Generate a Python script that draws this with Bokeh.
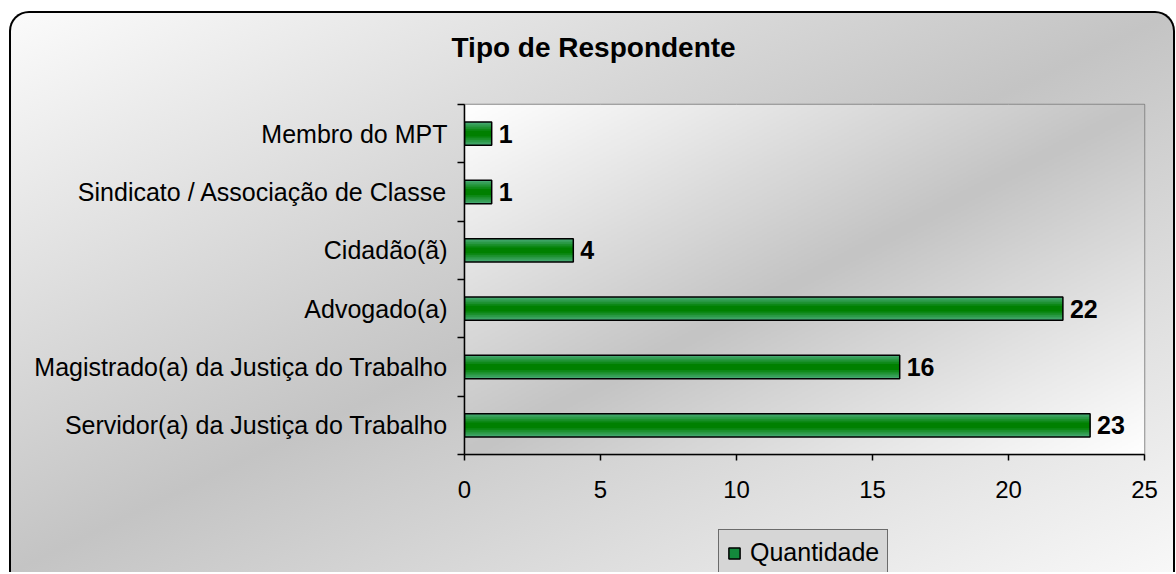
import numpy as np
from bokeh.plotting import figure
from bokeh.layouts import column
from bokeh.models import (Range1d, FixedTicker, Legend, LegendItem, ColumnDataSource, Title)
from bokeh.core.properties import value
from bokeh.embed import file_html
from bokeh.resources import INLINE

# ---- data ----
categories = ["Servidor(a) da Justiça do Trabalho",
              "Magistrado(a) da Justiça do Trabalho",
              "Advogado(a)",
              "Cidadão(ã)",
              "Sindicato / Associação de Classe",
              "Membro do MPT"]
quantidade = [23, 16, 22, 4, 1, 1]
x_ticks = [0, 5, 10, 15, 20, 25]
title_text = "Tipo de Respondente"
series_name = "Quantidade"

FONT = "Liberation Sans"
n = len(categories)
pos = [i + 0.5 for i in range(n)]
src = ColumnDataSource(dict(y=pos, v=quantidade, lab=[str(q) for q in quantidade]))

p = figure(width=1162, height=516, output_backend="svg", toolbar_location=None,
           x_range=Range1d(x_ticks[0], x_ticks[-1]), y_range=Range1d(0, n),
           min_border_left=453, min_border_right=29, min_border_top=91, min_border_bottom=75)
p.border_fill_alpha = 0
p.background_fill_alpha = 0
p.outline_line_color = "#888888"
p.outline_line_width = 1.5

# plot-area gradient background
N = 240
u = np.linspace(0, 1, N)[None, :]
vv = (1 - np.linspace(0, 1, N))[:, None]
t = (u + vv) / 2.0
g = (196 + (255 - 196) * np.abs(2 * t - 1)).astype(np.uint8)
img = np.empty((N, N), dtype=np.uint32)
view = img.view(dtype=np.uint8).reshape((N, N, 4))
view[:, :, 0] = g
view[:, :, 1] = g
view[:, :, 2] = g
view[:, :, 3] = 255
p.image_rgba(image=[img], x=x_ticks[0], y=0, dw=x_ticks[-1] - x_ticks[0], dh=n)

# grid
p.ygrid.grid_line_color = None
p.xgrid.grid_line_color = "#b4b4b4"
p.xgrid.grid_line_width = 1
p.xgrid.ticker = FixedTicker(ticks=x_ticks)

# bars (layered to mimic the shaded fill)
edge = np.array([0x45, 0xa8, 0x70])
core = np.array([0x00, 0x80, 0x00])
heights = [0.40, 0.34, 0.28, 0.22, 0.16, 0.10]
for k, hgt in enumerate(heights):
    f = k / (len(heights) - 1)
    c = (edge + (core - edge) * f).astype(int)
    col = "#%02x%02x%02x" % tuple(c)
    p.hbar(y="y", left=0, right="v", height=hgt, source=src,
           fill_color=col, line_color=None)
p.hbar(y="y", left=0, right="v", height=0.4, source=src,
       fill_alpha=0, line_color="black", line_width=1.5)

# value labels
p.text(x="v", y="y", text="lab", source=src, x_offset=7,
       text_baseline="middle", text_align="left",
       text_font=value(FONT), text_font_style="bold", text_font_size="25px",
       text_color="black")

# x axis
xa = p.xaxis[0]
xa.ticker = FixedTicker(ticks=x_ticks)
xa.major_tick_out = 6
xa.major_tick_in = 0
xa.minor_tick_out = 0
xa.minor_tick_in = 0
xa.axis_line_color = "black"
xa.axis_line_width = 1.5
xa.major_tick_line_color = "black"
xa.major_tick_line_width = 1.5
xa.major_label_text_font = FONT
xa.major_label_text_font_size = "24px"
xa.major_label_text_color = "black"
xa.major_label_standoff = 20

# y axis
ya = p.yaxis[0]
ya.ticker = FixedTicker(ticks=pos, minor_ticks=list(range(n + 1)))
ya.major_label_overrides = {pp: c for pp, c in zip(pos, categories)}
ya.major_tick_out = 0
ya.major_tick_in = 0
ya.minor_tick_out = 7
ya.minor_tick_in = 0
ya.minor_tick_line_color = "black"
ya.minor_tick_line_width = 1.5
ya.axis_line_color = "black"
ya.axis_line_width = 1.5
ya.major_label_text_font = FONT
ya.major_label_text_font_size = "25px"
ya.major_label_text_color = "black"
ya.major_label_standoff = 10

# title (spacer first, real title further from the frame)
p.add_layout(Title(text=" ", text_font_size="22px"), "above")
p.add_layout(Title(text=title_text, text_font=FONT, text_font_style="bold",
                   text_font_size="28px", text_color="black", align="left", offset=-13), "above")

# legend in its own small figure below the chart
lg = figure(width=171, height=43, output_backend="svg", toolbar_location=None,
            x_axis_type=None, y_axis_type=None, min_border=0,
            x_range=Range1d(-20, -19), y_range=Range1d(-20, -19))
lg.outline_line_color = None
lg.background_fill_alpha = 0
lg.border_fill_alpha = 0
lg.grid.visible = False
lg.styles = {"margin-left": "707px"}
r_leg = lg.hbar(y="y", left=0, right="v", height=0.4, source=src,
                fill_color="#138a3c", line_color="black", line_width=1.5)
legend = Legend(items=[LegendItem(label=series_name, renderers=[r_leg])],
                location="top_left", orientation="horizontal")
legend.label_text_font = FONT
legend.label_text_font_size = "25px"
legend.label_text_color = "black"
legend.glyph_width = 14
legend.glyph_height = 14
legend.label_standoff = 9
legend.padding = 8
legend.margin = 0
legend.border_line_color = "black"
legend.border_line_width = 1
legend.background_fill_color = "#d6d6d6"
legend.background_fill_alpha = 1
lg.add_layout(legend)

layout = column(p, lg, spacing=0)
layout.styles = {
    "background": "linear-gradient(to bottom right, #fbfbfb 0%, #c4c4c4 50%, #f8f8f8 100%)",
    "border-top": "2px solid black", "border-left": "2px solid black", "border-right": "2px solid black",
    "border-radius": "20px 20px 0 0",
    "margin-left": "9px", "margin-top": "11px",
}

open("out.html", "w").write(file_html(layout, INLINE))
